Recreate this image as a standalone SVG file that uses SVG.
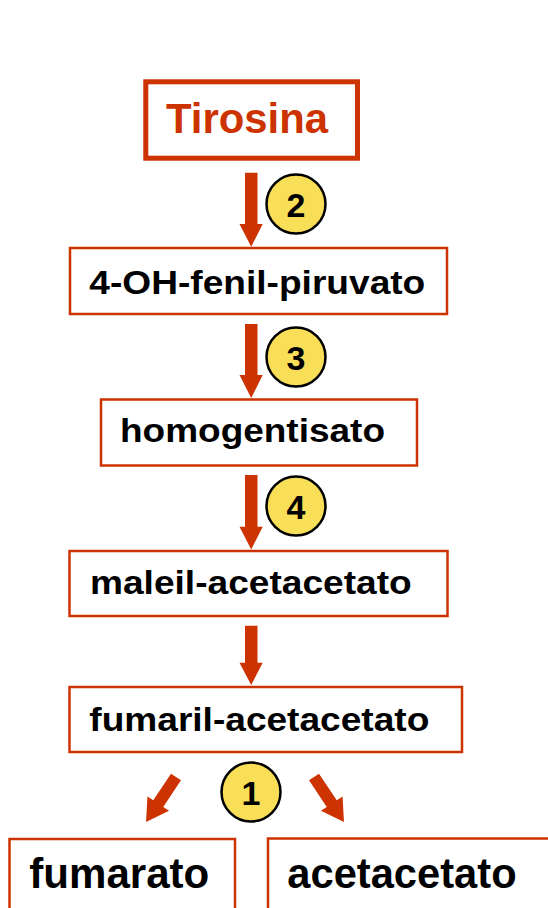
<svg xmlns="http://www.w3.org/2000/svg" width="548" height="908" viewBox="0 0 548 908">
<style>
.box{fill:#fff;stroke:#CC3300;stroke-width:2.5}
.lbl{font-family:"Liberation Sans",Arial,sans-serif;font-weight:bold;fill:#000}
.mid{font-size:34px}
.big{font-size:42px}
.arr{fill:#CC3300}
.num circle{fill:#F9DE57;stroke:#000;stroke-width:2.5}
.num text{font-family:"Liberation Sans",Arial,sans-serif;font-weight:bold;font-size:34px;fill:#000;text-anchor:middle}
</style>
<defs>
<path id="darr" d="M-6,0 H6 V32 H13 L0,54 L-13,32 H-6 Z"/>
</defs>
<rect width="548" height="908" fill="#fff"/>
<g id="connectors">
<path class="arr" d="M245,172.7 H257.5 V224 H262.7 L251.2,246.7 L239.5,224 H245 Z"/>
<path class="arr" d="M245,324 H257.5 V375 H262.7 L251.2,398 L239.5,375 H245 Z"/>
<path class="arr" d="M245,475 H257.5 V526.7 H262.7 L251.2,549.5 L239.5,526.7 H245 Z"/>
<path class="arr" d="M245,625.7 H257.5 V662.7 H262.7 L251.2,685 L239.5,662.7 H245 Z"/>
<use href="#darr" class="arr" transform="translate(176,777) rotate(33.7)"/>
<use href="#darr" class="arr" transform="translate(314,777) rotate(-33.7)"/>
</g>
<g id="tirosina">
<rect x="145.8" y="81.8" width="211.7" height="76.4" fill="#fff" stroke="#CC3300" stroke-width="5"/>
<text x="166" y="133" class="lbl big" style="fill:#CC3300" textLength="162" lengthAdjust="spacingAndGlyphs">Tirosina</text>
</g>
<g id="fenilpiruvato">
<rect class="box" x="70" y="248" width="377" height="66"/>
<text x="89.3" y="293.5" class="lbl mid" textLength="336" lengthAdjust="spacingAndGlyphs">4-OH-fenil-piruvato</text>
</g>
<g id="homogentisato">
<rect class="box" x="101" y="399.5" width="316" height="66"/>
<text x="120" y="442" class="lbl mid" textLength="265" lengthAdjust="spacingAndGlyphs">homogentisato</text>
</g>
<g id="maleil">
<rect class="box" x="69.5" y="551" width="378" height="65"/>
<text x="90" y="593.5" class="lbl mid" textLength="321.7" lengthAdjust="spacingAndGlyphs">maleil-acetacetato</text>
</g>
<g id="fumaril">
<rect class="box" x="69.5" y="687" width="392.5" height="65"/>
<text x="89.3" y="730.5" class="lbl mid" textLength="340" lengthAdjust="spacingAndGlyphs">fumaril-acetacetato</text>
</g>
<g id="fumarato">
<rect class="box" x="9.5" y="839" width="225.5" height="100"/>
<text x="29.3" y="888" class="lbl big" textLength="180" lengthAdjust="spacingAndGlyphs">fumarato</text>
</g>
<g id="acetacetato">
<rect class="box" x="268" y="838.5" width="300" height="100"/>
<text x="287.3" y="888" class="lbl big" textLength="229.3" lengthAdjust="spacingAndGlyphs">acetacetato</text>
</g>
<g id="enzyme2" class="num"><circle cx="296" cy="204" r="29.5"/><text x="296" y="217">2</text></g>
<g id="enzyme3" class="num"><circle cx="296" cy="357" r="29.5"/><text x="296" y="370">3</text></g>
<g id="enzyme4" class="num"><circle cx="296" cy="506" r="29.5"/><text x="296" y="519">4</text></g>
<g id="enzyme1" class="num"><circle cx="251" cy="792" r="29.5"/><text x="251" y="805">1</text></g>
</svg>
